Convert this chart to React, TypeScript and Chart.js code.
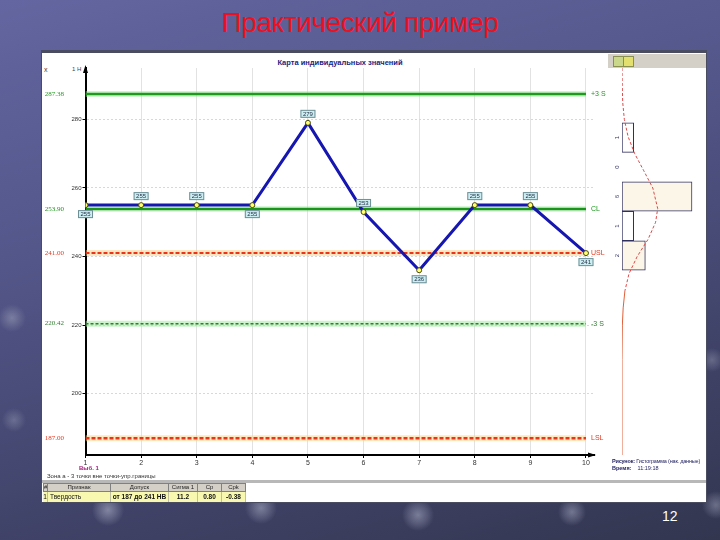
import React, { useEffect, useRef } from "react";
import { Chart, registerables } from "chart.js";
Chart.register(...registerables);

// ---------- data ----------
const sampleNumbers = [1, 2, 3, 4, 5, 6, 7, 8, 9, 10];
const hardness = [255, 255, 255, 255, 279, 253, 236, 255, 255, 241];
const yTickValues = [200, 220, 240, 260, 280];
const limitNames = ["+3 S", "CL", "USL", "-3 S", "LSL"];
const limitValues = [287.38, 253.9, 241.0, 220.42, 187.0];
const limitTexts = ["287.38", "253.90", "241.00", "220.42", "187.00"];
const binCenters = [274.7, 266.1, 257.5, 248.9, 240.3];
const binCounts = [1, 0, 6, 1, 2];
const curveValues = [295, 290, 285, 280, 275, 270, 265, 260, 254, 250, 245, 240, 235, 230, 225, 220, 210, 182.1];
const curveCounts = [0, 0.02, 0.06, 0.2, 0.52, 1.09, 1.87, 2.64, 3.06, 2.88, 2.23, 1.3, 0.6, 0.25, 0.1, 0.03, 0, 0];
const tableHeader = ["#", "Признак", "Допуск", "Сигма 1", "Ср", "Срk"];
const tableRow = ["1", "Твердость", "от 187 до 241 НВ", "11.2", "0.80", "-0.38"];

// ---------- styles ----------
const limitColors = ["#1f9a1f", "#1a941a", "#e8361c", "#2f7d2f", "#e8361c"];
const limitHalos = ["rgba(150,230,150,0.45)", "rgba(150,230,150,0.35)", "rgba(255,200,120,0.45)", "rgba(160,235,160,0.55)", "rgba(255,210,130,0.5)"];
const limitWidths = [2.5, 2.5, 2, 1.5, 2.5];
const limitDashes: number[][] = [[], [], [4, 2], [3, 2], [4, 2]];
const labelSide = ["below", "above", "above", "below", "above", "above", "below", "above", "above", "below"];
const colWidths = [5, 63, 58, 29, 24, 24];

const Y_MIN = 182.1;
const Y_MAX = 295;

const decorPlugin = {
  id: "decor",
  afterDraw(chart: any) {
    const { ctx, chartArea: a, scales } = chart;
    const x = scales.x;
    const y = scales.y;
    ctx.save();
    // axis arrows
    ctx.fillStyle = "#000";
    ctx.beginPath();
    ctx.moveTo(a.left, a.top - 3);
    ctx.lineTo(a.left - 2.5, a.top + 5);
    ctx.lineTo(a.left + 2.5, a.top + 5);
    ctx.closePath();
    ctx.fill();
    ctx.beginPath();
    ctx.moveTo(a.right + 2, a.bottom);
    ctx.lineTo(a.right - 6, a.bottom - 2.5);
    ctx.lineTo(a.right - 6, a.bottom + 2.5);
    ctx.closePath();
    ctx.fill();

    // limit labels
    limitValues.forEach((v, i) => {
      const py = y.getPixelForValue(v);
      ctx.fillStyle = limitColors[i];
      ctx.font = '7px "Liberation Serif", serif';
      ctx.textAlign = "right";
      ctx.textBaseline = "middle";
      ctx.fillText(limitTexts[i], 24, py);
      ctx.font = '7px "Liberation Sans", sans-serif';
      ctx.textAlign = "left";
      ctx.fillText(limitNames[i], x.getPixelForValue(10) + 5, py);
    });

    // data labels
    const meta = chart.getDatasetMeta(chart.data.datasets.length - 1);
    ctx.font = '6px "Liberation Sans", sans-serif';
    ctx.textAlign = "center";
    ctx.textBaseline = "middle";
    meta.data.forEach((pt: any, i: number) => {
      const txt = String(hardness[i]);
      const w = ctx.measureText(txt).width + 5;
      const h = 8;
      const cy = labelSide[i] === "above" ? pt.y - 9 : pt.y + 9;
      ctx.fillStyle = "#cdeef3";
      ctx.strokeStyle = "#6f8f96";
      ctx.lineWidth = 1;
      ctx.fillRect(pt.x - w / 2, cy - h / 2, w, h);
      ctx.strokeRect(pt.x - w / 2 + 0.5, cy - h / 2 + 0.5, w - 1, h - 1);
      ctx.fillStyle = "#1e2a40";
      ctx.fillText(txt, pt.x, cy + 0.5);
    });
    ctx.restore();
  },
};

const histPlugin = {
  id: "histLabels",
  afterDraw(chart: any) {
    const { ctx, chartArea: a, scales } = chart;
    ctx.save();
    ctx.font = '6px "Liberation Sans", sans-serif';
    ctx.fillStyle = "#303060";
    ctx.textAlign = "center";
    ctx.textBaseline = "middle";
    binCenters.forEach((c, i) => {
      const py = scales.y.getPixelForValue(c);
      ctx.save();
      ctx.translate(a.left - 5, py);
      ctx.rotate(-Math.PI / 2);
      ctx.fillText(String(binCounts[i]), 0, 0);
      ctx.restore();
    });
    ctx.restore();
  },
};

export default function App() {
  const mainRef = useRef<HTMLCanvasElement>(null);
  const histRef = useRef<HTMLCanvasElement>(null);

  useEffect(() => {
    const datasets: any[] = [];
    limitValues.forEach((v, i) => {
      datasets.push({
        type: "line",
        label: limitNames[i] + " halo",
        data: [{ x: 1, y: v }, { x: 10, y: v }],
        borderColor: limitHalos[i],
        borderWidth: 6,
        pointRadius: 0,
        order: 20,
      });
      datasets.push({
        type: "line",
        label: limitNames[i],
        data: [{ x: 1, y: v }, { x: 10, y: v }],
        borderColor: limitColors[i],
        borderWidth: limitWidths[i],
        borderDash: limitDashes[i],
        pointRadius: 0,
        order: 10,
      });
    });
    datasets.push({
      type: "line",
      label: "Твердость",
      data: sampleNumbers.map((n, i) => ({ x: n, y: hardness[i] })),
      borderColor: "#1616b0",
      borderWidth: 3,
      pointRadius: 2.5,
      pointBackgroundColor: "#ffff70",
      pointBorderColor: "#4a4a10",
      pointBorderWidth: 1,
      order: 0,
    });

    const main = new Chart(mainRef.current!, {
      type: "line",
      data: { datasets },
      options: {
        responsive: false,
        animation: false,
        layout: { padding: { left: 0, right: 12, top: 15, bottom: 0 } },
        plugins: { legend: { display: false }, tooltip: { enabled: false }, title: { display: false } },
        scales: {
          x: {
            type: "linear",
            min: 1,
            max: 10.144,
            afterBuildTicks: (s: any) => {
              s.ticks = sampleNumbers.map((v) => ({ value: v }));
            },
            afterFit: (s: any) => {
              s.height = 28;
            },
            ticks: { font: { size: 7, family: "Liberation Sans" }, color: "#333", padding: 1, maxRotation: 0, autoSkip: false },
            grid: { color: "#e2e2e2", lineWidth: 1, tickLength: 3, tickColor: "#000", tickWidth: 1 },
            border: { color: "#000", width: 2 },
          },
          y: {
            type: "linear",
            min: Y_MIN,
            max: Y_MAX,
            afterBuildTicks: (s: any) => {
              s.ticks = yTickValues.map((v) => ({ value: v }));
            },
            afterFit: (s: any) => {
              s.width = 45.5;
            },
            ticks: { font: { size: 6, family: "Liberation Sans" }, color: "#333", padding: 1 },
            grid: { color: "#d8d8d8", lineWidth: 1, tickLength: 3, tickColor: "#000", tickWidth: 1 },
            border: { color: "#000", width: 2, dash: [2, 2] },
          },
        },
      },
      plugins: [decorPlugin],
    } as any);

    const hist = new Chart(histRef.current!, {
      type: "bar",
      data: {
        datasets: [
          {
            type: "line",
            indexAxis: "y",
            data: curveValues.map((v, i) => ({ x: curveCounts[i], y: v })),
            borderColor: "#e04848",
            borderWidth: 1,
            borderDash: [3, 2],
            segment: {
              borderDash: (c: any) => (c.p0.parsed.y <= 230 ? [] : [3, 2]),
              borderColor: (c: any) => (c.p0.parsed.y <= 230 ? "#e0603a" : "#e04848"),
            },
            pointRadius: 0,
            order: 0,
          },
          {
            type: "bar",
            indexAxis: "y",
            data: binCenters.map((c, i) => ({ x: binCounts[i], y: c })),
            backgroundColor: binCounts.map((c) => (c >= 2 ? "#fcf6e8" : "#ffffff")),
            borderColor: binCounts.map((c) => (c === 0 ? "rgba(0,0,0,0)" : "#303060")),
            borderWidth: 1,
            borderSkipped: false,
            barPercentage: 1,
            categoryPercentage: 1,
            order: 1,
          },
        ],
      },
      options: {
        indexAxis: "y",
        responsive: false,
        animation: false,
        layout: { padding: { left: 16, right: 0, top: 15, bottom: 28 } },
        plugins: { legend: { display: false }, tooltip: { enabled: false } },
        scales: {
          x: { type: "linear", min: 0, max: 7.2, display: false, offset: false },
          y: { type: "linear", min: Y_MIN, max: Y_MAX, display: false, offset: false, grid: { offset: false } },
        },
      },
      plugins: [histPlugin],
    } as any);

    return () => {
      main.destroy();
      hist.destroy();
    };
  }, []);

  const sphere = (x: number, y: number, r: number, a: number) =>
    `radial-gradient(circle at ${x}px ${y}px, rgba(175,178,200,${a}) 0px, rgba(140,142,170,${a * 0.6}) ${r * 0.6}px, rgba(120,120,150,0) ${r}px)`;

  const bg = [
    sphere(108, 510, 16, 0.6),
    sphere(261, 508, 16, 0.55),
    sphere(418, 515, 16, 0.55),
    sphere(572, 512, 14, 0.5),
    sphere(716, 505, 14, 0.45),
    sphere(12, 318, 14, 0.45),
    sphere(14, 420, 12, 0.35),
    sphere(712, 360, 12, 0.35),
    "linear-gradient(165deg, #6366a0 0%, #54578a 35%, #44476f 65%, #33364f 100%)",
  ].join(",");

  const small: React.CSSProperties = { position: "absolute", fontFamily: '"Liberation Sans", Arial, sans-serif', whiteSpace: "nowrap" };

  return (
    <div style={{ position: "fixed", left: 0, top: 0, width: 720, height: 540, overflow: "hidden", background: bg }}>
      <div
        style={{
          position: "absolute",
          left: 0,
          width: 720,
          top: 4,
          textAlign: "center",
          color: "#ee1020",
          fontFamily: '"Liberation Sans", Arial, sans-serif',
          fontSize: 28,
          lineHeight: "38px",
          letterSpacing: -0.4,
        }}
      >
        Практический пример
      </div>

      {/* window panel */}
      <div style={{ position: "absolute", left: 41, top: 50, width: 666, height: 453, background: "#4a4d62" }} />
      <div style={{ position: "absolute", left: 42, top: 53, width: 664, height: 449, background: "#ffffff" }} />

      <div style={{ ...small, left: 44, top: 66, fontSize: 7, color: "#444" }}>x</div>
      <div style={{ ...small, left: 72, top: 66, fontSize: 6, color: "#444" }}>1 Н</div>
      <div style={{ ...small, left: 0, width: 680, top: 58, textAlign: "center", fontSize: 7.5, fontWeight: "bold", color: "#1c1c80" }}>
        Карта индивидуальных значений
      </div>

      <canvas ref={mainRef} width={566} height={430} style={{ position: "absolute", left: 40, top: 53, width: 566, height: 430 }} />
      <canvas ref={histRef} width={100} height={430} style={{ position: "absolute", left: 606, top: 53, width: 100, height: 430 }} />

      {/* histogram toolbar */}
      <div style={{ position: "absolute", left: 608, top: 54, width: 98, height: 14, background: "#d4d0c8" }} />
      <div style={{ position: "absolute", left: 613, top: 56, width: 9, height: 9, background: "#c9d88a", border: "1px solid #8a9050" }} />
      <div style={{ position: "absolute", left: 623, top: 56, width: 9, height: 9, background: "#e4e070", border: "1px solid #8a9050" }} />

      {/* bottom texts */}
      <div style={{ ...small, left: 79, top: 465, fontSize: 6, fontWeight: "bold", color: "#a01878" }}>Выб. 1</div>
      <div style={{ ...small, left: 47, top: 473, fontSize: 6, color: "#333" }}>Зона а - 3 точки вне точки-упр.границы</div>
      <div style={{ ...small, left: 612, top: 458, fontSize: 5.5, color: "#1c1c60", letterSpacing: -0.2 }}>
        <b>Рисунок:</b> Гистограмма (нак. данные)
      </div>
      <div style={{ ...small, left: 612, top: 465, fontSize: 5.5, color: "#1c1c60" }}>
        <b>Время:</b>&nbsp;&nbsp;&nbsp;&nbsp;11:19:18
      </div>

      {/* table */}
      <div style={{ position: "absolute", left: 42, top: 480, width: 664, height: 3, background: "#b8b8b8" }} />
      <div style={{ position: "absolute", left: 43, top: 483, display: "flex", height: 9 }}>
        {tableHeader.map((h, i) => (
          <div
            key={i}
            style={{
              width: colWidths[i],
              height: 9,
              boxSizing: "border-box",
              background: "#d4d0c8",
              border: "1px solid #808080",
              borderLeftWidth: i === 0 ? 1 : 0,
              fontFamily: '"Liberation Sans", Arial, sans-serif',
              fontSize: 6,
              lineHeight: "7px",
              textAlign: "center",
              color: "#222",
              overflow: "hidden",
            }}
          >
            {h}
          </div>
        ))}
      </div>
      <div style={{ position: "absolute", left: 43, top: 492, display: "flex", height: 10 }}>
        {tableRow.map((t, i) => (
          <div
            key={i}
            style={{
              width: colWidths[i],
              height: 10,
              boxSizing: "border-box",
              background: "#f8f8b0",
              borderRight: "1px solid #c0c0a0",
              fontFamily: '"Liberation Sans", Arial, sans-serif',
              fontSize: 6.5,
              fontWeight: i >= 2 ? "bold" : "normal",
              lineHeight: "10px",
              textAlign: i === 1 ? "left" : "center",
              paddingLeft: i === 1 ? 2 : 0,
              color: "#111",
              overflow: "hidden",
              whiteSpace: "nowrap",
            }}
          >
            {t}
          </div>
        ))}
      </div>

      <div style={{ ...small, left: 662, top: 508, fontSize: 14, color: "#ffffff" }}>12</div>
    </div>
  );
}
